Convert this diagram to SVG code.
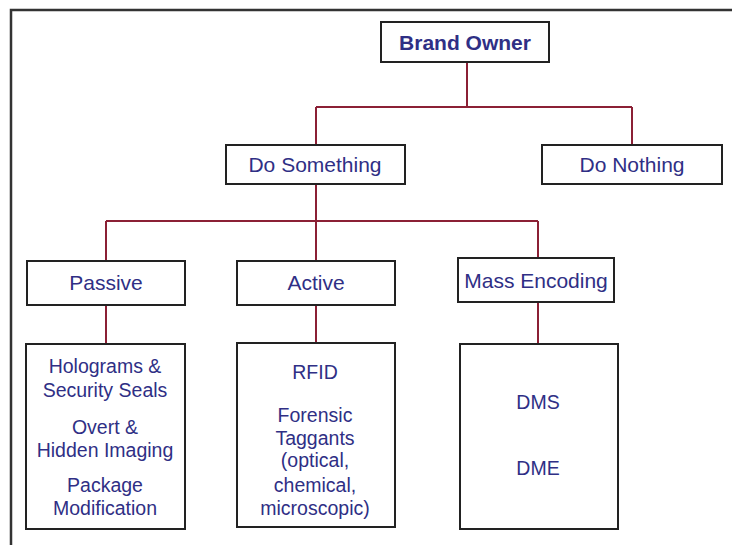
<svg xmlns="http://www.w3.org/2000/svg" width="732" height="545" viewBox="0 0 732 545">
<style>
.box{fill:#fff;stroke:#222;stroke-width:2}
.lbl{font-family:"Liberation Sans",Arial,sans-serif;font-size:21px;fill:#2f2f85;text-anchor:middle}
.det{font-family:"Liberation Sans",Arial,sans-serif;font-size:19.5px;fill:#2f2f85;text-anchor:middle}
.con{fill:none;stroke:#8b2035;stroke-width:2}
</style>
<rect x="0" y="0" width="732" height="545" fill="#fff"/>
<rect x="11" y="10" width="800" height="600" fill="none" stroke="#333" stroke-width="2.5"/>
<g id="connectors">
<path class="con" d="M467 62V107M316 107H632M316 107V145M632 107V145"/>
<path class="con" d="M316 184V221M106 221H538M106 221V261M316 221V261M538 221V258"/>
<path class="con" d="M106 305V344M316 305V343M538 302V344"/>
</g>
<g id="brand-owner">
<rect class="box" x="381" y="22" width="168" height="40"/>
<text class="lbl" x="465" y="50" font-weight="bold">Brand Owner</text>
</g>
<g id="do-something">
<rect class="box" x="226" y="145" width="179" height="39"/>
<text class="lbl" x="315" y="172">Do Something</text>
</g>
<g id="do-nothing">
<rect class="box" x="542" y="145" width="180" height="39"/>
<text class="lbl" x="632" y="172">Do Nothing</text>
</g>
<g id="passive">
<rect class="box" x="27" y="261" width="158" height="44"/>
<text class="lbl" x="106" y="290">Passive</text>
</g>
<g id="active">
<rect class="box" x="237" y="261" width="158" height="44"/>
<text class="lbl" x="316" y="290">Active</text>
</g>
<g id="mass-encoding">
<rect class="box" x="458" y="258" width="156" height="44"/>
<text class="lbl" x="536" y="288">Mass Encoding</text>
</g>
<g id="passive-detail">
<rect class="box" x="26" y="344" width="159" height="185"/>
<text class="det" x="105" y="373">Holograms &amp;</text>
<text class="det" x="105" y="397">Security Seals</text>
<text class="det" x="105" y="434">Overt &amp;</text>
<text class="det" x="105" y="457">Hidden Imaging</text>
<text class="det" x="105" y="492">Package</text>
<text class="det" x="105" y="515">Modification</text>
</g>
<g id="active-detail">
<rect class="box" x="237" y="343" width="158" height="184"/>
<text class="det" x="315" y="379">RFID</text>
<text class="det" x="315" y="422">Forensic</text>
<text class="det" x="315" y="445">Taggants</text>
<text class="det" x="315" y="467">(optical,</text>
<text class="det" x="315" y="492">chemical,</text>
<text class="det" x="315" y="515">microscopic)</text>
</g>
<g id="mass-detail">
<rect class="box" x="460" y="344" width="158" height="185"/>
<text class="det" x="538" y="409">DMS</text>
<text class="det" x="538" y="475">DME</text>
</g>
</svg>
